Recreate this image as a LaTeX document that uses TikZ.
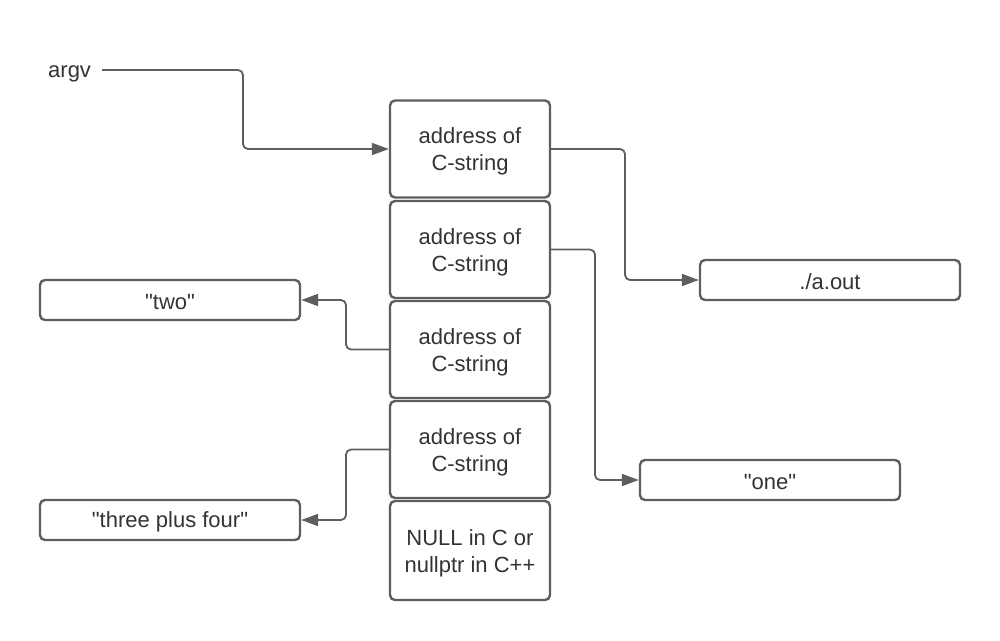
\documentclass[tikz,border=0pt]{standalone}
\usepackage{fontspec}
\setmainfont{Liberation Sans}[Ligatures=TeXOff]
\usetikzlibrary{arrows.meta}
\definecolor{linec}{HTML}{5E5E5E}
\definecolor{textc}{HTML}{333333}
\newcommand{\dq}{\symbol{34}}
\newcommand{\twol}[2]{\raisebox{-3pt}[\height][\depth]{\begin{tabular}{@{}c@{}}#1\\#2\end{tabular}}}
\newcommand{\onel}[1]{\raisebox{-2pt}[\height][\depth]{#1}}
\tikzset{
  cell/.style={draw=linec, line width=2.4pt, rounded corners=5pt, minimum width=160pt, minimum height=97pt, inner sep=0pt, align=center, text=textc, font=\fontsize{22}{27}\selectfont},
  strbox/.style={draw=linec, line width=2.4pt, rounded corners=5pt, minimum width=260pt, minimum height=40pt, inner sep=0pt, text=textc, font=\fontsize{22}{27}\selectfont},
  conn/.style={draw=linec, line width=1.8pt, rounded corners=5pt, -{Triangle[length=17pt,width=12pt]}},
}
\begin{document}
\begin{tikzpicture}[x=1pt,y=-1pt]
\useasboundingbox (0,0) rectangle (1000,640);
\node[anchor=base west, inner sep=0pt, text=textc, font=\fontsize{22}{27}\selectfont] (argv) at (48,77) {argv};
\coordinate (argvend) at (102,70);
\node[cell] (b1) at (470,149) {\twol{address of}{C-string}};
\node[cell] (b2) at (470,249.5) {\twol{address of}{C-string}};
\node[cell] (b3) at (470,349.5) {\twol{address of}{C-string}};
\node[cell] (b4) at (470,449.5) {\twol{address of}{C-string}};
\node[cell, minimum height=99pt] (b5) at (470,550.5) {\twol{NULL in C or}{nullptr in C++}};
\node[strbox] (aout) at (830,280) {\onel{./a.out}};
\node[strbox] (one) at (770,480) {\onel{\dq one\dq}};
\node[strbox] (two) at (170,300) {\onel{\dq two\dq}};
\node[strbox] (three) at (170,520) {\onel{\dq three plus four\dq}};
\draw[conn] (argvend) -- (243,70) |- (b1.west);
\draw[conn] (b1.east) -- (625,149) |- (aout.west);
\draw[conn] (b2.east) -- (595,249.5) |- (one.west);
\draw[conn] (b3.west) -- (346,349.5) |- (two.east);
\draw[conn] (b4.west) -- (346,449.5) |- (three.east);
\end{tikzpicture}
\end{document}
